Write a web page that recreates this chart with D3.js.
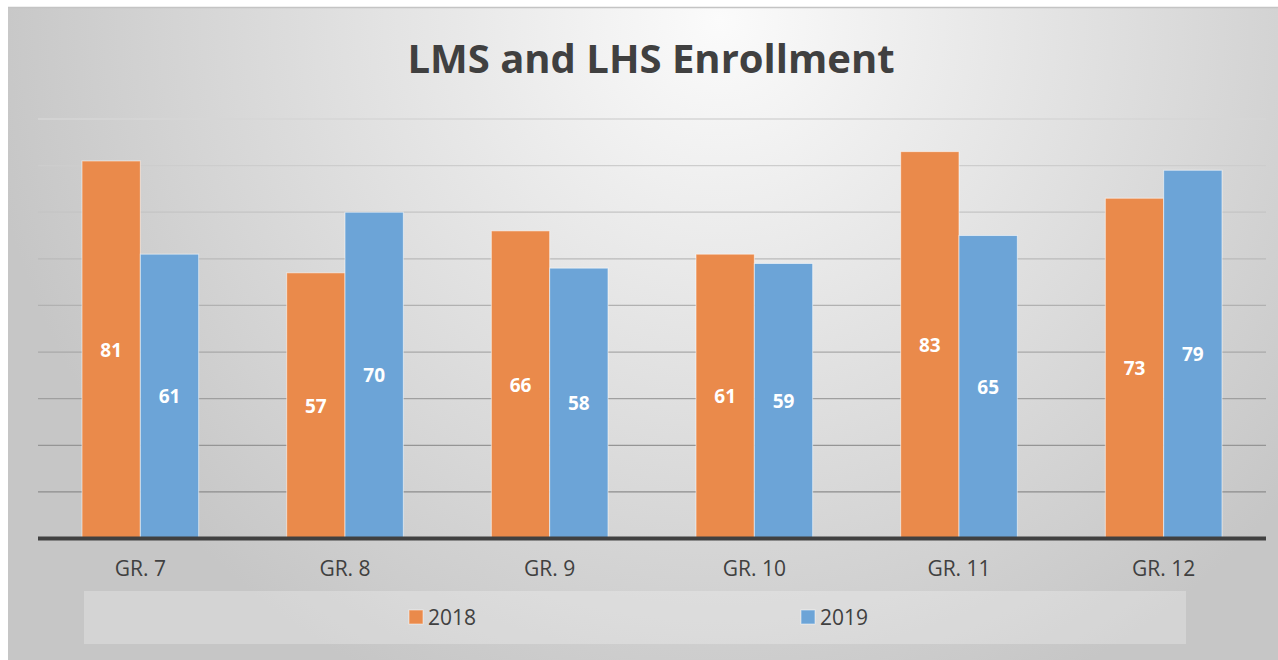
<!DOCTYPE html>
<html>
<head>
<meta charset="utf-8">
<script src="https://cdn.jsdelivr.net/npm/d3@7"></script>
<style>
  html, body { margin: 0; padding: 0; background: #fff; }
  svg { display: block; }
</style>
</head>
<body>
<svg id="chart" width="1278" height="660"></svg>
<script>
// chart data
const grades = ['GR. 7', 'GR. 8', 'GR. 9', 'GR. 10', 'GR. 11', 'GR. 12'];
const series = ['2018', '2019'];
const values2018 = [81, 57, 66, 61, 83, 73];
const values2019 = [61, 70, 58, 59, 65, 79];
const gridTicks = [10, 20, 30, 40, 50, 60, 70, 80, 90];

const colors = { '2018': '#ea8a4b', '2019': '#6ca4d7' };

const svg = d3.select('#chart');
const W = 1278, H = 660;

// background
const defs = svg.append('defs');
const bg = defs.append('radialGradient')
  .attr('id', 'bg')
  .attr('gradientUnits', 'userSpaceOnUse')
  .attr('cx', 720).attr('cy', 20).attr('r', 740);
bg.append('stop').attr('offset', '0%').attr('stop-color', '#fbfbfb');
bg.append('stop').attr('offset', '100%').attr('stop-color', '#c6c6c6');

svg.append('rect')
  .attr('x', 8).attr('y', 7)
  .attr('width', W - 8).attr('height', H - 7)
  .attr('fill', 'url(#bg)');
svg.append('line')
  .attr('x1', 8).attr('x2', W).attr('y1', 7.5).attr('y2', 7.5)
  .attr('stroke', '#c4c4c4').attr('stroke-width', 1.5);

// title
svg.append('text')
  .attr('x', 651).attr('y', 73)
  .attr('text-anchor', 'middle')
  .attr('font-family', 'Open Sans, sans-serif')
  .attr('font-weight', 700)
  .attr('font-size', 40)
  .attr('fill', '#404040')
  .text('LMS and LHS Enrollment');

const plot = { left: 38, right: 1266, top: 119, bottom: 538.5 };

const x0 = d3.scaleBand()
  .domain(grades)
  .range([plot.left, plot.right])
  .paddingInner(0.43)
  .paddingOuter(0.215);

const x1 = d3.scaleBand()
  .domain(series)
  .range([0, x0.bandwidth()]);

const y = d3.scaleLinear()
  .domain([0, 90])
  .range([plot.bottom, plot.top]);

// gridlines, lighter toward the top
const gridColor = d3.scaleLinear()
  .domain([10, 90])
  .range(['#8c8c8c', '#d6d6d6']);

svg.append('g')
  .selectAll('line')
  .data(gridTicks)
  .join('line')
  .attr('x1', plot.left).attr('x2', plot.right)
  .attr('y1', d => y(d)).attr('y2', d => y(d))
  .attr('stroke', d => gridColor(d))
  .attr('stroke-width', 1.3);

// bars
const rows = grades.map((g, i) => ({
  grade: g,
  items: [
    { key: '2018', value: values2018[i] },
    { key: '2019', value: values2019[i] }
  ]
}));

const groups = svg.append('g')
  .selectAll('g')
  .data(rows)
  .join('g')
  .attr('transform', d => `translate(${x0(d.grade)},0)`);

groups.selectAll('rect')
  .data(d => d.items)
  .join('rect')
  .attr('x', d => x1(d.key))
  .attr('y', d => y(d.value))
  .attr('width', x1.bandwidth())
  .attr('height', d => y(0) - y(d.value))
  .attr('fill', d => colors[d.key])
  .attr('stroke', 'rgba(255,255,255,0.55)')
  .attr('stroke-width', 1);

groups.selectAll('text')
  .data(d => d.items)
  .join('text')
  .attr('x', d => x1(d.key) + x1.bandwidth() / 2)
  .attr('y', d => (y(d.value) + y(0)) / 2 + 7)
  .attr('text-anchor', 'middle')
  .attr('font-family', 'Open Sans, sans-serif')
  .attr('font-weight', 700)
  .attr('font-size', 19)
  .attr('fill', '#fff')
  .text(d => d.value);

// x axis
const xAxis = svg.append('g')
  .attr('transform', `translate(0,${plot.bottom})`)
  .call(d3.axisBottom(x0).tickSize(0).tickPadding(23));
xAxis.select('.domain')
  .attr('stroke', '#404040')
  .attr('stroke-width', 4)
  .attr('d', `M${plot.left},0H${plot.right}`);
xAxis.selectAll('text')
  .attr('font-family', 'Open Sans, sans-serif')
  .attr('font-size', 21)
  .attr('fill', '#404040');

// legend
svg.append('rect')
  .attr('x', 84).attr('y', 591)
  .attr('width', 1102).attr('height', 53)
  .attr('fill', 'rgba(255,255,255,0.25)');

const legendX = { '2018': 409, '2019': 801 };
const legend = svg.append('g')
  .selectAll('g')
  .data(series)
  .join('g')
  .attr('transform', d => `translate(${legendX[d]},610)`);
legend.append('rect')
  .attr('width', 14).attr('height', 14)
  .attr('fill', d => colors[d])
  .attr('stroke', 'rgba(255,255,255,0.5)');
legend.append('text')
  .attr('x', 19).attr('y', 14.5)
  .attr('font-family', 'Open Sans, sans-serif')
  .attr('font-size', 21)
  .attr('fill', '#404040')
  .text(d => d);
</script>
</body>
</html>
